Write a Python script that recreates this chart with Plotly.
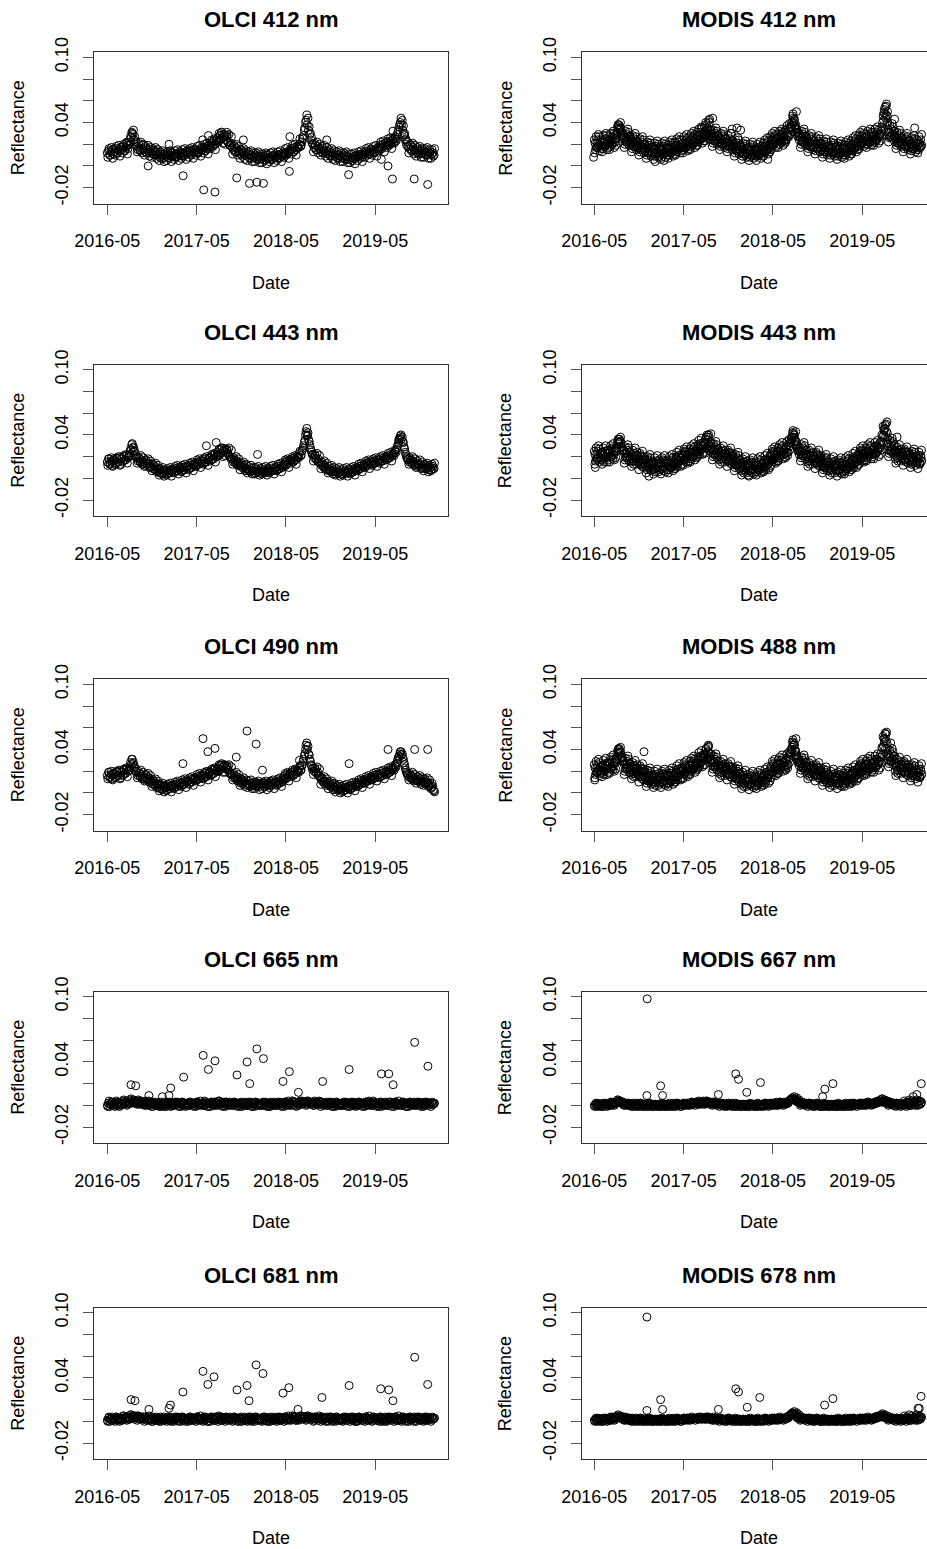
import pandas as pd
import plotly.graph_objects as go

# ---------------- data (reflectance in units of 0.001) ----------------
# interleaved sets of band readings, every 5 days (268 samples each)
GRID_A_START = "2016-05-01"
GRID_B_START = "2016-05-03"
GRID_C_START = "2016-05-04"
GRID_N = 268

olci412 = [
12,14,10,13,15,11, 13,16,12,15,14,17, 15,18,14,17,19,16, 22,27,31,29,24,20,
18,15,17,14,16,19, 15,13,16,14,12,15, 13,11,14,12,10,13, 10,8,11,9,7,10,
9,11,8,10,12,9, 10,8,11,9,12,10, 11,9,12,10,13,11, 12,14,11,13,15,12,
14,12,15,13,16,14, 15,17,14,18,16,19, 18,21,19,23,20,24, 26,23,28,25,29,27,
27,24,28,22,19,21, 17,15,18,14,16,13, 13,11,14,12,10,12, 9,11,8,10,7,9,
8,10,7,9,6,8, 7,9,6,8,10,7, 8,6,9,7,10,8, 9,7,10,8,11,9,
10,12,11,13,12,14, 14,16,13,17,15,18, 17,20,18,22,25,33, 40,47,44,36,30,26,
20,17,19,15,18,16, 15,13,16,14,12,14, 11,13,10,12,9,11, 9,11,8,10,7,9,
8,10,7,9,6,8, 6,8,5,7,9,7, 8,10,9,11,8,10, 11,13,12,14,11,13,
14,12,15,13,16,14, 16,19,17,20,18,21, 19,22,20,23,21,24, 22,25,23,29,33,38,
44,42,37,30,25,22, 18,16,19,15,17,14, 14,12,15,13,11,14, 12,14,11,13,10,12,
13,11,12,10]
olci412_b = [
8,16,10,17,7,15, 10,18,12,19,9,17, 12,20,14,21,11,19, 20,26,30,33,27,22,
13,21,15,22,12,20, 10,18,12,19,9,17, 8,16,10,17,7,15, 5,13,7,14,4,12,
5,13,7,14,4,12, 6,14,8,15,5,13, 7,15,9,16,6,14, 8,16,10,17,7,15,
10,18,12,19,9,17, 12,20,14,21,11,19, 16,24,18,25,15,23, 22,30,24,31,21,29,
20,28,22,29,19,27, 11,19,13,20,10,18, 7,15,9,16,6,14, 5,13,7,14,4,12,
4,12,6,13,3,11, 3,11,5,12,2,10, 4,12,6,13,3,11, 5,13,7,14,4,12,
8,16,10,17,7,15, 11,19,13,20,10,18, 17,25,19,26,28,35, 42,38,33,29,24,21,
13,21,15,22,12,20, 10,18,12,19,9,17, 7,15,9,16,6,14, 5,13,7,14,4,12,
4,12,6,13,3,11, 3,11,5,12,2,10, 5,13,7,14,4,12, 8,16,10,17,7,15,
10,18,12,19,9,17, 14,22,16,23,13,21, 17,25,19,26,16,24, 21,27,25,31,36,40,
38,33,29,24,20,18, 12,20,14,21,11,19, 9,17,11,18,8,16, 8,16,10,17,7,15,
7,15,9,16]
olci412_out_dates = ["2016-07-20","2016-10-15","2017-01-08","2017-03-07","2017-05-26","2017-05-30",
    "2017-06-18","2017-07-15","2017-08-10","2017-09-01","2017-10-12","2017-11-08","2017-12-03",
    "2018-01-02","2018-01-29","2018-05-15","2018-05-17","2018-10-15","2019-01-12","2019-05-26",
    "2019-06-22","2019-07-10","2019-07-12","2019-08-28","2019-10-07","2019-12-01"]
olci412_out_vals = [22,0,20,-9,24,-22,28,-24,31,31,-11,24,-16,-15,-16,-5,27,24,-8,6,0,-12,32,28,-12,-17]

modis412 = [
24,15,21,17,27,19, 25,16,22,18,28,20, 27,18,24,20,30,22, 30,36,38,33,28,25,
29,20,26,22,31,23, 25,16,22,18,27,19, 22,13,19,15,24,16, 19,10,16,12,21,13,
18,9,15,11,20,12, 18,8,15,11,20,13, 19,10,16,12,21,14, 22,13,19,15,24,17,
24,15,21,17,26,19, 27,18,24,20,29,22, 31,22,28,24,35,26, 36,27,33,29,40,30,
30,21,27,23,32,24, 27,18,24,20,29,21, 25,16,22,18,30,19, 21,12,18,14,24,15,
18,9,15,11,20,12, 17,8,14,10,19,12, 17,9,14,10,18,12, 21,13,18,14,23,16,
27,18,24,20,29,22, 29,20,26,22,31,23, 33,24,30,27,36,35, 46,40,37,33,28,30,
29,20,26,22,31,23, 25,16,22,18,27,19, 23,14,20,16,25,17, 20,11,17,13,22,14,
19,10,16,12,21,13, 18,9,15,11,20,12, 19,10,16,12,21,14, 23,14,20,16,25,18,
28,19,25,21,30,22, 29,20,26,22,31,23, 31,22,28,24,33,27, 30,36,46,52,44,38,
34,26,31,27,36,28, 28,19,25,21,30,22, 25,16,22,18,27,19, 23,14,20,16,25,17,
24,15,21,18]
modis412_b = [
12,27,17,29,14,22, 13,28,18,30,15,23, 15,30,20,32,17,25, 26,38,35,40,30,28,
17,32,22,34,19,27, 13,28,18,30,15,23, 10,25,15,27,12,20, 7,22,12,24,9,17,
6,21,11,23,8,16, 6,21,11,23,8,16, 7,22,12,24,9,17, 10,25,15,27,12,20,
12,27,17,29,14,22, 15,30,20,32,17,25, 19,34,24,36,21,29, 23,38,28,42,25,33,
18,33,23,35,20,28, 15,30,20,32,17,25, 13,28,18,30,15,23, 9,24,14,26,11,19,
6,21,11,23,8,16, 5,20,10,22,7,15, 5,20,10,22,7,15, 9,24,14,26,11,19,
15,30,20,32,17,25, 17,32,22,34,19,27, 22,37,27,39,35,40, 48,42,35,31,27,24,
17,32,22,34,19,27, 13,28,18,30,15,23, 11,26,16,28,13,21, 8,23,13,25,10,18,
7,22,12,24,9,17, 6,21,11,23,8,16, 7,22,12,24,9,17, 11,26,16,28,13,21,
16,31,21,33,18,26, 17,32,22,34,19,27, 19,34,24,36,21,29, 27,34,42,48,55,46,
22,37,27,39,24,32, 16,31,21,33,18,26, 13,28,18,30,15,23, 11,26,16,28,13,21,
12,27,17,29]
modis412_c = [
21,17,24,19,22,16, 22,18,25,20,23,17, 24,20,27,22,25,19, 29,34,37,35,30,26,
26,22,29,24,27,21, 22,18,25,20,23,17, 19,15,22,17,20,14, 16,12,19,14,17,11,
15,11,18,13,16,10, 15,11,18,13,16,10, 16,12,19,14,17,11, 19,15,22,17,20,14,
21,17,24,19,22,16, 24,20,27,22,25,19, 28,24,31,26,29,23, 32,28,35,30,33,27,
27,23,30,25,28,22, 24,20,27,22,25,19, 22,18,25,20,23,17, 18,14,21,16,19,13,
15,11,18,13,16,10, 14,10,17,12,15,9, 14,10,17,12,15,9, 18,14,21,16,19,13,
24,20,27,22,25,19, 26,22,29,24,27,21, 31,27,34,29,36,38, 44,43,38,34,30,27,
26,22,29,24,27,21, 22,18,25,20,23,17, 20,16,23,18,21,15, 17,13,20,15,18,12,
16,12,19,14,17,11, 15,11,18,13,16,10, 16,12,19,14,17,11, 20,16,23,18,21,15,
25,21,28,23,26,20, 26,22,29,24,27,21, 28,24,31,26,29,23, 32,40,49,54,47,40,
31,27,34,29,32,26, 25,21,28,23,26,20, 22,18,25,20,23,17, 20,16,23,18,21,15,
21,17,24,19]
modis412_out_dates = ["2016-04-28","2017-01-05","2017-02-10","2017-07-30","2017-08-15","2017-08-28",
    "2017-11-15","2017-12-05","2017-12-20","2018-04-10","2018-08-05","2019-08-08","2019-08-12",
    "2019-09-10","2019-12-01"]
modis412_out_vals = [8,4,5,40,43,44,34,35,33,6,50,57,50,43,35]

olci443 = [
15,18,13,16,12,17, 16,14,18,15,19,13, 18,16,20,17,21,19, 22,27,31,28,24,20,
19,16,18,15,17,14, 15,12,16,13,14,11, 11,9,12,8,10,9, 7,5,8,4,6,7,
6,4,7,5,8,6, 8,6,9,7,10,8, 9,7,10,8,11,10, 11,9,12,10,13,12,
14,12,15,13,16,14, 16,14,18,15,17,19, 19,17,21,18,22,20, 24,21,26,23,28,25,
27,24,26,22,20,18, 18,15,17,14,16,13, 13,11,12,10,12,9, 9,7,8,6,9,7,
7,5,8,6,7,5, 7,6,8,5,7,6, 8,6,9,7,8,7, 10,8,11,9,12,10,
13,15,12,16,14,17, 16,18,15,19,17,20, 20,23,21,25,28,33, 40,46,42,34,28,24,
22,19,21,17,18,15, 14,12,13,10,12,9, 9,7,8,6,9,7, 6,4,7,5,6,4,
6,4,7,5,6,5, 7,5,8,6,9,7, 10,8,11,9,12,10, 13,11,14,12,15,13,
15,13,16,14,17,15, 17,15,18,16,19,17, 20,18,21,19,22,21, 23,26,24,29,33,37,
40,38,33,27,22,19, 18,15,17,14,16,13, 13,11,14,12,13,10, 11,9,12,10,11,8,
10,8,11,9]
olci443_b = [
12,18,14,19,11,17, 13,19,15,20,12,18, 15,21,17,22,14,20, 21,26,32,29,25,21,
14,20,16,21,13,19, 11,17,13,18,10,16, 7,13,9,14,6,12, 3,9,5,10,2,8,
3,9,5,10,2,8, 5,11,7,12,4,10, 6,12,8,13,5,11, 8,14,10,15,7,13,
11,17,13,18,10,16, 13,19,15,20,12,18, 16,22,18,23,15,21, 21,27,23,28,20,26,
21,27,23,28,20,26, 13,19,15,20,12,18, 8,14,10,15,7,13, 5,11,7,12,4,10,
4,10,6,11,3,9, 4,10,6,11,3,9, 5,11,7,12,4,10, 7,13,9,14,6,12,
11,17,13,18,10,16, 14,20,16,21,13,19, 19,25,21,26,30,35, 43,39,36,31,26,22,
16,22,18,23,15,21, 9,15,11,16,8,14, 5,11,7,12,4,10, 3,9,5,10,2,8,
3,9,5,10,2,8, 4,10,6,11,3,9, 7,13,9,14,6,12, 10,16,12,17,9,15,
12,18,14,19,11,17, 14,20,16,21,13,19, 17,23,19,24,16,22, 21,25,27,31,35,39,
36,34,29,24,20,17, 13,19,15,20,12,18, 10,16,12,17,9,15, 7,13,9,14,6,12,
7,13,9,14]
olci443_out_dates = ["2017-06-10","2017-07-20","2018-01-05","2018-07-28","2019-08-05"]
olci443_out_vals = [30,33,22,40,36]

modis443 = [
25,16,22,18,27,19, 17,24,15,23,20,26, 25,20,28,18,24,27, 28,34,36,33,29,26,
26,17,23,19,28,20, 15,22,13,21,18,24, 18,13,21,11,17,20, 17,8,14,10,19,11,
8,15,6,14,11,17, 14,9,17,7,13,16, 17,8,14,10,19,11, 13,20,11,19,16,22,
22,17,25,15,21,24, 27,18,24,20,29,21, 24,31,22,30,27,33, 33,36,28,38,30,27,
29,20,26,22,31,23, 17,24,15,23,20,26, 21,16,24,14,20,23, 19,10,16,12,21,13,
7,14,5,13,10,16, 12,7,15,5,11,14, 15,6,12,8,17,9, 10,17,8,16,13,19,
22,17,25,15,21,24, 28,19,25,21,30,22, 23,30,21,29,33,36, 42,38,34,30,28,26,
28,19,25,21,30,22, 15,22,13,21,18,24, 19,14,22,12,18,21, 17,8,14,10,19,11,
7,14,5,13,10,16, 12,7,15,5,11,14, 16,7,13,9,18,10, 12,19,10,18,15,21,
23,18,26,16,22,25, 28,19,25,21,30,22, 22,29,24,30,27,32, 34,40,48,44,38,33,
32,23,29,25,34,26, 18,25,16,24,21,27, 22,17,25,15,21,24, 22,13,19,15,24,16,
15,21,13,19]
modis443_b = [
13,28,18,30,15,23, 13,28,18,30,15,23, 15,30,20,32,17,25, 25,36,33,38,28,26,
14,29,19,31,16,24, 11,26,16,28,13,21, 8,23,13,25,10,18, 5,20,10,22,7,15,
4,19,9,21,6,14, 4,19,9,21,6,14, 5,20,10,22,7,15, 9,24,14,26,11,19,
12,27,17,29,14,22, 15,30,20,32,17,25, 20,35,25,37,22,30, 23,38,28,40,25,33,
17,32,22,34,19,27, 13,28,18,30,15,23, 11,26,16,28,13,21, 7,22,12,24,9,17,
3,18,8,20,5,13, 2,17,7,19,4,12, 3,18,8,20,5,13, 6,21,11,23,8,16,
12,27,17,29,14,22, 16,31,21,33,18,26, 19,34,24,36,33,38, 44,40,34,30,25,22,
16,31,21,33,18,26, 11,26,16,28,13,21, 9,24,14,26,11,19, 5,20,10,22,7,15,
3,18,8,20,5,13, 2,17,7,19,4,12, 4,19,9,21,6,14, 8,23,13,25,10,18,
13,28,18,30,15,23, 16,31,21,33,18,26, 18,33,23,35,20,28, 26,33,40,46,50,42,
20,35,25,37,22,30, 14,29,19,31,16,24, 12,27,17,29,14,22, 10,25,15,27,12,20,
9,24,14,26]
modis443_c = [
22,18,25,20,23,17, 22,18,25,20,23,17, 24,20,27,22,25,19, 28,33,36,34,29,25,
23,19,26,21,24,18, 20,16,23,18,21,15, 17,13,20,15,18,12, 14,10,17,12,15,9,
13,9,16,11,14,8, 13,9,16,11,14,8, 14,10,17,12,15,9, 18,14,21,16,19,13,
21,17,24,19,22,16, 24,20,27,22,25,19, 29,25,32,27,30,24, 32,28,35,30,33,27,
26,22,29,24,27,21, 22,18,25,20,23,17, 20,16,23,18,21,15, 16,12,19,14,17,11,
12,8,15,10,13,7, 11,7,14,9,12,6, 12,8,15,10,13,7, 15,11,18,13,16,10,
21,17,24,19,22,16, 25,21,28,23,26,20, 28,24,31,26,33,35, 41,40,35,31,27,25,
25,21,28,23,26,20, 20,16,23,18,21,15, 18,14,21,16,19,13, 14,10,17,12,15,9,
12,8,15,10,13,7, 11,7,14,9,12,6, 13,9,16,11,14,8, 17,13,20,15,18,12,
22,18,25,20,23,17, 25,21,28,23,26,20, 27,23,30,25,28,22, 31,38,45,49,43,37,
29,25,32,27,30,24, 23,19,26,21,24,18, 21,17,24,19,22,16, 19,15,22,17,20,14,
18,14,21,16]
modis443_out_dates = ["2016-05-05","2016-12-10","2017-08-05","2017-08-20","2018-01-20","2018-08-02",
    "2019-08-10","2019-09-20"]
modis443_out_vals = [10,2,40,41,3,43,52,38]

olci490 = [
16,19,14,17,13,18, 17,15,19,16,20,14, 19,17,21,18,22,20, 23,28,31,27,23,20,
19,16,18,15,17,14, 15,12,16,13,14,11, 10,8,11,7,9,8, 6,4,7,3,5,6,
5,3,6,4,7,5, 7,5,8,6,9,7, 9,7,10,8,11,10, 11,9,12,10,13,12,
14,12,15,13,16,14, 16,14,18,15,17,19, 19,17,21,18,22,20, 23,20,25,22,26,24,
26,23,25,21,19,17, 17,14,16,13,15,12, 11,9,12,10,11,8, 9,7,8,6,9,7,
8,6,9,7,8,6, 8,7,9,6,8,7, 9,7,10,8,9,8, 10,8,11,9,12,10,
14,16,13,17,15,18, 17,19,16,20,18,21, 20,23,21,25,29,34, 40,46,43,35,29,25,
23,20,22,18,19,16, 14,12,13,10,11,9, 9,7,8,6,8,6, 5,3,6,4,5,3,
4,2,5,3,5,4, 6,4,7,5,8,6, 9,7,10,8,11,9, 12,10,13,11,14,12,
15,13,16,14,17,15, 17,15,18,16,19,17, 20,18,21,19,22,21, 23,26,24,29,33,36,
38,36,31,26,21,18, 17,14,16,13,15,12, 13,11,14,12,13,10, 11,9,12,10,9,7,
8,5,6,2]
olci490_b = [
13,19,15,20,12,18, 14,20,16,21,13,19, 16,22,18,23,15,21, 21,26,31,28,24,20,
14,20,16,21,13,19, 11,17,13,18,10,16, 6,12,8,13,5,11, 2,8,4,9,1,7,
2,8,4,9,1,7, 4,10,6,11,3,9, 6,12,8,13,5,11, 8,14,10,15,7,13,
11,17,13,18,10,16, 13,19,15,20,12,18, 16,22,18,23,15,21, 20,26,22,27,19,25,
19,25,21,26,18,24, 12,18,14,19,11,17, 7,13,9,14,6,12, 5,11,7,12,4,10,
4,10,6,11,3,9, 4,10,6,11,3,9, 5,11,7,12,4,10, 7,13,9,14,6,12,
12,18,14,19,11,17, 15,21,17,22,14,20, 19,25,21,26,31,36, 44,40,36,31,26,22,
17,23,19,24,16,22, 8,14,10,15,7,13, 4,10,6,11,3,9, 1,7,3,8,0,6,
1,7,3,8,0,6, 3,9,5,10,2,8, 6,12,8,13,5,11, 9,15,11,16,8,14,
12,18,14,19,11,17, 14,20,16,21,13,19, 17,23,19,24,16,22, 21,25,27,31,34,38,
35,33,28,23,19,16, 12,18,14,19,11,17, 9,15,11,16,8,14, 7,13,9,14,6,12,
4,9,3,1]
olci490_out_dates = ["2017-03-06","2017-05-27","2017-06-16","2017-07-15","2017-10-10","2017-11-23",
    "2017-12-30","2018-01-25","2018-06-25","2019-01-14","2019-06-22","2019-10-09","2019-12-01"]
olci490_out_vals = [27,50,38,41,33,57,45,21,30,27,40,40,40]

modis488 = [
26,17,23,19,28,20, 19,26,17,25,22,28, 28,23,31,21,27,30, 32,38,41,37,33,29,
29,20,26,22,31,23, 17,24,15,23,20,26, 20,15,23,13,19,22, 18,9,15,11,20,12,
9,16,7,15,12,18, 15,10,18,8,14,17, 18,9,15,11,20,12, 14,21,12,20,17,23,
23,18,26,16,22,25, 29,20,26,22,31,23, 26,33,24,32,29,35, 36,40,32,42,34,31,
31,22,28,24,33,25, 18,25,16,24,21,27, 22,17,25,15,21,24, 20,11,17,13,22,14,
8,15,6,14,11,17, 13,8,16,6,12,15, 16,7,13,9,18,10, 11,18,9,17,14,20,
24,19,27,17,23,26, 30,21,27,23,32,24, 25,32,23,31,36,40, 47,44,39,34,31,29,
30,21,27,23,32,24, 17,24,15,23,20,26, 21,16,24,14,20,23, 19,10,16,12,21,13,
9,16,7,15,12,18, 14,9,17,7,13,16, 18,9,15,11,20,12, 13,20,11,19,16,22,
24,19,27,17,23,26, 29,20,26,22,31,23, 23,30,25,31,28,33, 36,42,52,47,41,36,
36,27,33,29,38,30, 20,27,18,26,23,29, 24,19,27,17,23,26, 23,14,20,16,25,17,
16,22,14,20]
modis488_b = [
14,29,19,31,16,24, 15,30,20,32,17,25, 18,33,23,35,20,28, 29,40,37,42,32,30,
17,32,22,34,19,27, 13,28,18,30,15,23, 10,25,15,27,12,20, 6,21,11,23,8,16,
5,20,10,22,7,15, 5,20,10,22,7,15, 6,21,11,23,8,16, 10,25,15,27,12,20,
13,28,18,30,15,23, 17,32,22,34,19,27, 22,37,27,39,24,32, 26,41,31,43,28,36,
19,34,24,36,21,29, 14,29,19,31,16,24, 12,27,17,29,14,22, 8,23,13,25,10,18,
4,19,9,21,6,14, 3,18,8,20,5,13, 4,19,9,21,6,14, 7,22,12,24,9,17,
14,29,19,31,16,24, 18,33,23,35,20,28, 21,36,26,38,37,42, 49,45,38,33,28,25,
18,33,23,35,20,28, 13,28,18,30,15,23, 11,26,16,28,13,21, 7,22,12,24,9,17,
5,20,10,22,7,15, 4,19,9,21,6,14, 6,21,11,23,8,16, 9,24,14,26,11,19,
14,29,19,31,16,24, 17,32,22,34,19,27, 19,34,24,36,21,29, 28,35,43,50,54,45,
24,39,29,41,26,34, 16,31,21,33,18,26, 14,29,19,31,16,24, 11,26,16,28,13,21,
10,25,15,27]
modis488_c = [
23,19,26,21,24,18, 24,20,27,22,25,19, 27,23,30,25,28,22, 31,37,40,38,33,29,
26,22,29,24,27,21, 22,18,25,20,23,17, 19,15,22,17,20,14, 15,11,18,13,16,10,
14,10,17,12,15,9, 14,10,17,12,15,9, 15,11,18,13,16,10, 19,15,22,17,20,14,
22,18,25,20,23,17, 26,22,29,24,27,21, 31,27,34,29,32,26, 35,31,38,33,36,30,
28,24,31,26,29,23, 23,19,26,21,24,18, 21,17,24,19,22,16, 17,13,20,15,18,12,
13,9,16,11,14,8, 12,8,15,10,13,7, 13,9,16,11,14,8, 16,12,19,14,17,11,
23,19,26,21,24,18, 27,23,30,25,28,22, 30,26,33,28,37,40, 46,44,39,35,31,28,
27,23,30,25,28,22, 22,18,25,20,23,17, 20,16,23,18,21,15, 16,12,19,14,17,11,
14,10,17,12,15,9, 13,9,16,11,14,8, 15,11,18,13,16,10, 18,14,21,16,19,13,
23,19,26,21,24,18, 26,22,29,24,27,21, 28,24,31,26,29,23, 33,41,50,55,48,41,
33,29,36,31,34,28, 25,21,28,23,26,20, 23,19,26,21,24,18, 20,16,23,18,21,15,
19,15,22,17]
modis488_out_dates = ["2016-05-03","2016-11-20","2017-08-10","2018-08-03","2019-08-08","2019-08-25"]
modis488_out_vals = [12,38,44,50,56,46]

olci665 = [
0,2,-1,1,3,0, 1,3,0,2,-1,1, 2,4,1,3,0,2, 3,5,2,4,3,4,
2,4,1,3,2,3, 1,3,0,2,4,1, 1,-1,2,0,3,1, 0,2,-1,1,3,0,
1,2,0,3,-1,1, 0,2,1,3,0,2, 1,3,0,2,-1,1, 2,0,3,1,2,0,
1,3,0,2,4,1, 2,0,3,1,-1,2, 1,3,2,0,3,1, 2,4,1,3,0,2,
1,3,0,2,3,1, 2,0,3,1,2,0, 1,2,-1,1,3,0, 0,2,1,3,-1,1,
1,3,0,2,1,0, 2,0,1,3,0,2, 1,-1,2,0,3,1, 0,2,1,3,0,2,
1,3,0,2,4,1, 2,4,1,3,0,2, 2,3,1,4,2,3, 3,1,4,2,3,1,
2,0,3,1,2,4, 1,3,0,2,1,3, 0,2,1,3,-1,1, 1,3,0,2,1,0,
2,0,1,3,0,2, 1,2,0,3,1,-1, 2,0,3,1,2,0, 1,3,0,2,4,1,
2,0,3,1,2,0, 1,3,-1,2,0,3, 2,0,1,3,1,2, 1,3,0,2,4,1,
2,0,3,1,-1,2, 1,3,0,2,1,3, 0,2,1,3,0,1, 2,0,1,3,1,2,
1,2,1,2]
olci665_b = [
-1,4,1,3,0,2, -1,4,1,3,0,2, 1,5,2,4,1,3, 2,6,3,5,2,4,
1,5,2,4,1,3, 0,4,1,3,0,2, -1,3,1,2,0,2, -1,3,0,2,-1,2,
-1,3,1,2,0,2, 0,3,1,2,-1,2, -1,3,1,2,0,2, 0,3,1,2,-1,2,
-1,3,1,2,0,2, 0,4,1,2,-1,2, -1,3,1,3,0,2, 0,4,1,2,-1,3,
-1,3,1,2,0,2, 0,3,1,2,-1,2, -1,3,1,2,0,2, 0,3,1,2,-1,2,
-1,3,1,2,0,2, 0,3,1,2,-1,2, -1,3,1,2,0,2, 0,3,1,2,-1,2,
-1,3,1,2,0,2, 0,4,1,3,-1,2, 0,4,2,3,1,3, 0,4,2,3,1,3,
0,4,2,3,1,3, -1,3,1,2,0,2, 0,3,1,2,-1,2, -1,3,1,2,0,2,
0,3,1,2,-1,2, -1,3,1,2,0,2, 0,3,1,2,-1,2, -1,3,1,3,0,2,
0,4,1,2,-1,2, -1,3,1,2,0,2, 0,3,1,3,-1,2, -1,3,1,2,0,2,
0,3,1,2,-1,2, -1,3,1,2,0,2, 0,3,1,2,-1,2, -1,3,1,2,0,2,
-1,3,1,2]
olci665_out_dates = ["2016-08-06","2016-08-25","2016-10-18","2016-12-12","2017-01-08","2017-01-15",
    "2017-03-09","2017-05-28","2017-06-18","2017-07-15","2017-10-13","2017-11-23","2017-12-04",
    "2018-01-02","2018-01-29","2018-04-19","2018-05-15","2018-06-21","2018-09-28","2019-01-14",
    "2019-05-26","2019-06-25","2019-07-13","2019-10-09","2019-12-02"]
olci665_out_vals = [19,18,9,8,9,16,26,46,33,41,28,40,20,52,43,22,31,12,22,33,29,29,19,58,36]

modis667 = [
0,1,-1,2,0,1, 1,-1,0,2,1,0, 1,2,0,3,1,2, 3,5,4,3,2,2,
1,2,0,1,2,0, 0,1,-1,1,2,0, 1,0,2,-1,1,0, 0,1,-1,2,0,1,
-1,0,1,-1,0,1, 0,-1,1,0,-1,1, 1,0,-1,1,0,2, 0,1,2,0,1,-1,
1,2,0,1,2,1, 2,1,3,1,2,3, 2,3,1,3,2,4, 3,2,4,2,3,2,
2,1,3,1,2,1, 1,2,0,2,1,0, 1,0,2,0,1,2, 0,1,-1,1,0,1,
-1,0,1,-1,0,1, 0,-1,1,0,1,-1, 0,1,-1,1,0,1, 1,0,2,1,0,2,
1,2,0,2,1,3, 2,1,3,2,1,3, 2,3,2,4,5,6, 7,6,5,4,3,3,
2,1,3,1,2,1, 1,2,0,2,1,0, 1,0,2,0,1,-1, 0,1,-1,1,0,1,
-1,0,1,-1,0,1, 0,-1,1,0,-1,1, 1,0,-1,1,0,2, 0,1,2,0,1,1,
1,2,0,2,1,2, 2,1,3,1,2,1, 1,2,3,2,3,4, 5,6,4,3,2,3,
2,1,3,1,2,0, 1,2,0,1,2,0, 1,0,2,-1,1,3, 2,0,3,1,4,2,
3,1,4,2]
modis667_b = [
-1,2,0,1,-1,1, -1,2,0,1,-1,1, 0,3,1,2,0,2, 2,5,3,4,2,3,
0,2,1,2,0,1, -1,2,0,1,-1,1, -1,2,0,1,-1,1, -1,2,0,1,-1,1,
-1,1,0,1,-1,1, -1,2,0,1,-1,1, -1,2,0,1,-1,1, -1,2,0,1,-1,1,
0,2,1,2,0,1, 0,3,1,2,0,2, 1,4,2,3,1,3, 1,4,2,3,1,3,
0,3,1,2,0,2, -1,2,0,1,-1,1, -1,2,0,1,-1,1, -1,2,0,1,-1,1,
-1,1,0,1,-1,1, -1,2,0,1,-1,1, -1,2,0,1,-1,1, -1,2,0,1,-1,1,
0,2,1,2,0,1, 0,3,1,2,0,2, 1,3,2,4,5,6, 5,8,6,7,4,5,
0,3,1,2,0,2, -1,2,0,1,-1,1, -1,2,0,1,-1,1, -1,2,0,1,-1,1,
-1,1,0,1,-1,1, -1,2,0,1,-1,1, -1,2,0,1,-1,1, -1,2,0,1,-1,1,
0,2,1,2,0,1, 0,3,1,2,0,2, 1,3,2,4,3,4, 3,6,4,5,3,4,
0,3,1,2,0,2, -1,2,0,1,-1,1, 0,4,1,3,0,5, 0,4,1,3,0,5,
0,4,1,3]
modis667_out_dates = ["2016-12-02","2016-12-03","2017-01-27","2017-02-04","2017-09-20","2017-11-30",
    "2017-12-11","2018-01-14","2018-03-11","2018-11-20","2018-11-29","2019-01-01","2019-11-25",
    "2019-12-10","2019-12-28"]
modis667_out_vals = [9,98,18,9,10,29,24,12,21,8,15,20,8,10,20]

olci681 = [
1,3,0,2,4,1, 2,4,1,3,0,2, 3,5,2,4,1,3, 4,6,3,5,4,5,
3,5,2,4,3,4, 2,4,1,3,5,2, 2,0,3,1,4,2, 1,3,0,2,4,1,
2,3,1,4,0,2, 1,3,2,4,1,3, 2,4,1,3,0,2, 3,1,4,2,3,1,
2,4,1,3,5,2, 3,1,4,2,0,3, 2,4,3,1,4,2, 3,5,2,4,1,3,
2,4,1,3,4,2, 3,1,4,2,3,1, 2,3,0,2,4,1, 1,3,2,4,0,2,
2,4,1,3,2,1, 3,1,2,4,1,3, 2,0,3,1,4,2, 1,3,2,4,1,3,
2,4,1,3,5,2, 3,5,2,4,1,3, 3,4,2,5,3,4, 4,2,5,3,4,2,
3,1,4,2,3,5, 2,4,1,3,2,4, 1,3,2,4,0,2, 2,4,1,3,2,1,
3,1,2,4,1,3, 2,3,1,4,2,0, 3,1,4,2,3,1, 2,4,1,3,5,2,
3,1,4,2,3,1, 2,4,0,3,1,4, 3,1,2,4,2,3, 2,4,1,3,5,2,
3,1,4,2,0,3, 2,4,1,3,2,4, 1,3,2,4,1,2, 3,1,2,4,2,3,
2,3,2,3]
olci681_b = [
0,4,2,3,1,3, 0,4,2,3,1,3, 1,5,3,4,2,4, 2,6,3,5,2,4,
1,5,3,4,2,4, 0,4,2,3,1,3, 0,4,2,3,1,3, 0,4,2,3,1,3,
0,4,1,3,1,3, 0,4,2,3,0,3, 0,4,2,3,1,3, 0,4,1,3,1,3,
0,4,2,3,1,3, 0,4,2,3,0,3, 0,4,2,3,1,3, 0,4,1,3,1,3,
0,4,2,3,1,3, 0,4,2,3,0,3, 0,4,2,3,1,3, 0,4,1,3,1,3,
0,4,2,3,1,3, 0,4,2,3,0,3, 0,4,2,3,1,3, 0,4,1,3,1,3,
0,4,2,3,1,3, 1,5,2,4,1,3, 1,5,3,4,2,4, 1,5,3,4,2,4,
0,4,2,3,1,3, 0,4,2,3,0,3, 0,4,2,3,1,3, 0,4,1,3,1,3,
0,4,2,3,1,3, 0,4,2,3,0,3, 0,4,2,3,1,3, 0,4,1,3,1,3,
0,4,2,3,1,3, 0,4,2,3,0,3, 0,4,2,3,1,3, 0,4,1,3,1,3,
0,4,2,3,1,3, 0,4,2,3,0,3, 0,4,2,3,1,3, 0,4,1,3,1,3,
0,4,2,3]
olci681_out_dates = ["2016-08-06","2016-08-22","2016-10-18","2017-01-08","2017-01-14","2017-03-06",
    "2017-05-27","2017-06-16","2017-07-11","2017-10-13","2017-11-23","2017-12-01","2017-12-30",
    "2018-01-27","2018-04-19","2018-05-13","2018-06-19","2018-09-25","2019-01-14","2019-05-23",
    "2019-06-25","2019-07-12","2019-10-09","2019-12-01"]
olci681_out_vals = [20,19,11,12,15,27,46,34,41,29,33,19,52,44,26,31,11,22,33,30,29,19,59,34]

modis678 = [
1,2,0,3,1,2, 2,0,1,3,2,1, 2,3,1,4,2,3, 4,5,4,3,3,2,
2,3,1,2,3,1, 1,2,0,2,3,1, 2,1,3,0,2,1, 1,2,0,3,1,2,
0,1,2,0,1,2, 1,0,2,1,0,2, 2,1,0,2,1,3, 1,2,3,1,2,0,
2,3,1,2,3,2, 3,2,3,2,3,3, 3,2,3,2,3,3, 3,2,4,2,3,2,
2,3,1,3,2,1, 2,3,1,2,1,2, 2,1,3,1,2,2, 1,2,0,2,1,2,
0,1,2,0,1,2, 1,0,2,1,2,0, 1,2,0,2,1,2, 2,1,3,2,1,2,
2,3,1,3,2,3, 3,2,3,3,2,3, 3,4,3,5,6,7, 8,7,6,4,3,3,
3,2,3,2,3,2, 2,3,1,3,2,1, 2,1,3,1,2,0, 1,2,0,2,1,2,
0,1,2,0,1,2, 1,0,2,1,0,2, 2,1,0,2,1,3, 1,2,3,1,2,2,
2,3,1,3,2,3, 3,2,3,2,3,2, 2,3,4,3,4,4, 5,6,5,4,3,3,
3,2,3,2,3,1, 2,3,1,2,3,1, 2,1,3,0,2,3, 3,1,3,2,4,3,
3,2,4,3]
modis678_b = [
0,3,1,2,0,2, 0,3,1,2,0,2, 1,4,2,3,1,3, 3,6,4,5,3,4,
1,4,2,3,1,3, 0,3,1,2,0,2, 0,3,1,2,0,2, 0,3,1,2,0,2,
0,2,1,2,0,2, 0,3,1,2,0,2, 0,3,1,2,0,2, 0,3,1,2,0,2,
1,3,2,3,1,2, 1,4,2,3,1,3, 2,4,3,4,2,3, 2,4,3,4,2,3,
1,4,2,3,1,3, 0,3,1,2,0,2, 0,3,1,2,0,2, 0,3,1,2,0,2,
0,2,1,2,0,2, 0,3,1,2,0,2, 0,3,1,2,0,2, 0,3,1,2,0,2,
1,3,2,3,1,2, 1,4,2,3,1,3, 2,4,3,5,6,7, 6,9,7,8,5,6,
1,4,2,3,1,3, 0,3,1,2,0,2, 0,3,1,2,0,2, 0,3,1,2,0,2,
0,2,1,2,0,2, 0,3,1,2,0,2, 0,3,1,2,0,2, 0,3,1,2,0,2,
1,3,2,3,1,2, 1,4,2,3,1,3, 2,4,3,5,4,5, 4,7,5,6,4,5,
1,4,2,3,1,3, 0,3,1,2,0,2, 1,5,2,4,1,6, 1,5,2,4,1,6,
1,5,2,4]
modis678_out_dates = ["2016-12-02","2016-12-02","2017-01-27","2017-02-04","2017-09-20","2017-11-30",
    "2017-12-11","2018-01-16","2018-03-08","2018-11-28","2019-01-01","2019-12-15","2019-12-20",
    "2019-12-27"]
modis678_out_vals = [10,96,20,11,11,30,27,13,22,15,21,12,12,23]

titles = ["OLCI 412 nm", "MODIS 412 nm", "OLCI 443 nm", "MODIS 443 nm",
          "OLCI 490 nm", "MODIS 488 nm", "OLCI 665 nm", "MODIS 667 nm",
          "OLCI 681 nm", "MODIS 678 nm"]
bands_a = [olci412, modis412, olci443, modis443, olci490, modis488,
           olci665, modis667, olci681, modis678]
bands_b = [olci412_b, modis412_b, olci443_b, modis443_b, olci490_b, modis488_b,
           olci665_b, modis667_b, olci681_b, modis678_b]
bands_c = [[], modis412_c, [], modis443_c, [], modis488_c, [], [], [], []]
out_dates = [olci412_out_dates, modis412_out_dates, olci443_out_dates, modis443_out_dates,
             olci490_out_dates, modis488_out_dates, olci665_out_dates, modis667_out_dates,
             olci681_out_dates, modis678_out_dates]
out_vals = [olci412_out_vals, modis412_out_vals, olci443_out_vals, modis443_out_vals,
            olci490_out_vals, modis488_out_vals, olci665_out_vals, modis667_out_vals,
            olci681_out_vals, modis678_out_vals]

x_tick_dates = ["2016-05-01", "2017-05-01", "2018-05-01", "2019-05-01"]
x_tick_text = ["2016-05", "2017-05", "2018-05", "2019-05"]
y_tick_vals = [-0.02, 0.0, 0.02, 0.04, 0.06, 0.08, 0.10]
y_tick_text = ["-0.02", "", "", "0.04", "", "", "0.10"]

# ---------------- layout geometry (pixels) ----------------
W, H = 927, 1549
FONT = "Liberation Sans, Arial, sans-serif"
col_box = [(94.3, 448.3), (581.7, 927.0)]
col_tick0 = [107.3, 594.3]
col_center = [271.3, 758.7]
row_top = [52.3, 364.7, 679.3, 991.7, 1307.7]
box_h = 151.5
ppd = 268.0 / 1095.0
ypu = 1086.7
t0 = pd.Timestamp("2016-05-01")
grid_a = list(pd.date_range(GRID_A_START, periods=GRID_N, freq="5D"))
grid_b = list(pd.date_range(GRID_B_START, periods=GRID_N, freq="5D"))
grid_c = list(pd.date_range(GRID_C_START, periods=GRID_N, freq="5D"))

fig = go.Figure()
annotations = []
layout_axes = {}
for idx in range(10):
    r, c = divmod(idx, 2)
    n = idx + 1
    x0, x1 = col_box[c]
    top = row_top[r]
    bot = top + box_h
    xr = [t0 - pd.Timedelta(days=(col_tick0[c] - x0) / ppd),
          t0 + pd.Timedelta(days=(x1 - col_tick0[c]) / ppd)]
    ytop = 0.10 + 5.0 / ypu
    yr = [ytop - box_h / ypu, ytop]

    xs = grid_a + grid_b + (grid_c if bands_c[idx] else []) + [pd.Timestamp(d) for d in out_dates[idx]]
    ys = [v * 0.001 for v in bands_a[idx] + bands_b[idx] + bands_c[idx] + out_vals[idx]]
    xa = "x" if n == 1 else f"x{n}"
    ya = "y" if n == 1 else f"y{n}"
    fig.add_trace(go.Scatter(
        x=xs, y=ys, mode="markers", xaxis=xa, yaxis=ya, showlegend=False,
        marker=dict(symbol="circle-open", size=8, color="black", line=dict(width=1, color="black")),
    ))
    kx = "xaxis" if n == 1 else f"xaxis{n}"
    ky = "yaxis" if n == 1 else f"yaxis{n}"
    layout_axes[kx] = dict(
        type="date", domain=[x0 / W, x1 / W], anchor=ya, automargin=False,
        range=[xr[0].strftime("%Y-%m-%d %H:%M:%S"), xr[1].strftime("%Y-%m-%d %H:%M:%S")],
        showline=True, linecolor="#333", linewidth=1, mirror=True,
        ticks="outside", ticklen=10, tickcolor="#555", tickwidth=1,
        tickvals=x_tick_dates, ticktext=x_tick_text, ticklabelstandoff=11,
        tickfont=dict(family=FONT, size=18, color="black"),
        showgrid=False, zeroline=False, fixedrange=True,
    )
    layout_axes[ky] = dict(
        domain=[1 - bot / H, 1 - top / H], anchor=xa, range=yr, automargin=False,
        showline=True, linecolor="#333", linewidth=1, mirror=(c == 0),
        ticks="outside", ticklen=10, tickcolor="#555", tickwidth=1,
        tickvals=y_tick_vals, ticktext=y_tick_text, tickangle=-90, ticklabelstandoff=8,
        tickfont=dict(family=FONT, size=18, color="black"),
        showgrid=False, zeroline=False, fixedrange=True,
    )
    annotations.append(dict(
        text=titles[idx], x=col_center[c] / W, y=1 - (top - 32.5) / H,
        xref="paper", yref="paper", xanchor="center", yanchor="middle", showarrow=False,
        font=dict(family=FONT, size=22, color="black", weight="bold"),
    ))
    annotations.append(dict(
        text="Reflectance", x=(x0 - 76) / W, y=1 - (top + box_h / 2) / H,
        xref="paper", yref="paper", xanchor="center", yanchor="middle", showarrow=False,
        textangle=-90, font=dict(family=FONT, size=18, color="black"),
    ))
    annotations.append(dict(
        text="Date", x=col_center[c] / W, y=1 - (bot + 79) / H,
        xref="paper", yref="paper", xanchor="center", yanchor="middle", showarrow=False,
        font=dict(family=FONT, size=18, color="black"),
    ))

fig.update_layout(
    template="none",
    width=W, height=H, margin=dict(l=0, r=0, t=0, b=0, autoexpand=False),
    paper_bgcolor="white", plot_bgcolor="white",
    annotations=annotations, **layout_axes,
)
fig.write_html("out.html")
